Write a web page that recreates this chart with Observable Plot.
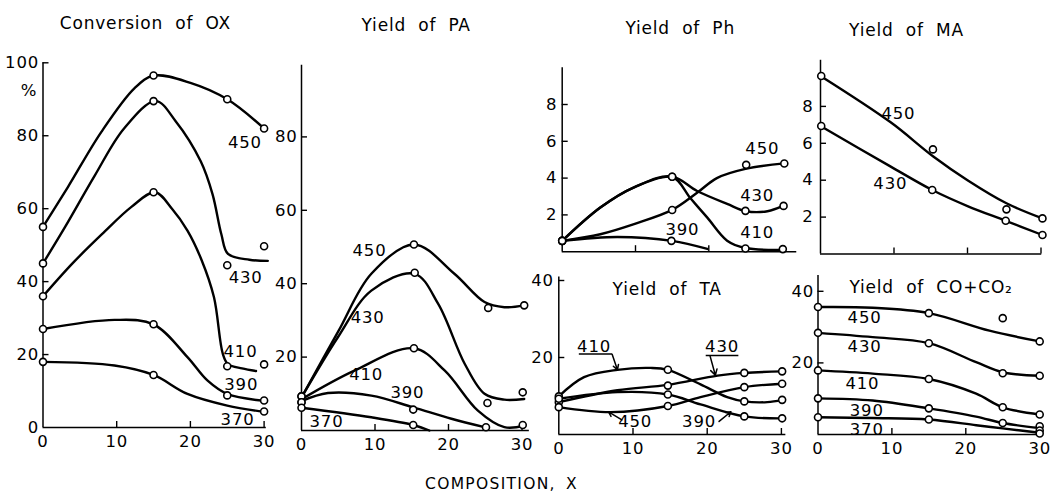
<!DOCTYPE html>
<html><head><meta charset="utf-8">
<script src="https://cdn.jsdelivr.net/npm/d3@7"></script>
<script src="https://cdn.jsdelivr.net/npm/@observablehq/plot@0.6"></script>
<style>
html,body{margin:0;padding:0;background:#fff;}
#chart{position:relative;width:1051px;height:495px;overflow:hidden;background:#fff;font-family:"DejaVu Sans",sans-serif;color:#000;}
#chart svg{position:absolute;left:0;top:0;background:transparent;}
#caption{position:absolute;left:0;width:1003px;top:475px;text-align:center;font-size:15.5px;letter-spacing:1.3px;word-spacing:4px;font-family:"DejaVu Sans",sans-serif;}
</style></head><body><div id="chart"><div id="caption">COMPOSITION, X</div></div>
<script>
// ---------- DATA ----------
const titles = ["Conversion of OX", "Yield of PA", "Yield of Ph", "Yield of TA", "Yield of MA", "Yield of CO+CO\u2082"];
const titlePos = [[13.9, 110.9], [15.6, 110.4], [16.1, 12.15], [14.6, 37.6], [11.7, 12.1], [15.3, 41.1]];

// Conversion of OX
const oxSeries = ["450", "430", "410", "390", "370"];
const oxPoints = [
  [[0,55],[15,96.5],[25,90],[30,82]],
  [[0,45],[15,89.5],[25,44.5],[30,49.7]],
  [[0,36],[15,64.5],[25,16.8],[30,17.3]],
  [[0,27],[15,28.3],[25,8.8],[30,7.4]],
  [[0,18],[15,14.4],[30,4.4]]
];
const oxCurves = [
  [[0,55],[3.4,66],[7.9,81],[12.4,93],[15,96.5],[20,94.5],[25,90],[30,82]],
  [[0,45],[3,55],[7,69],[11,82],[15.3,89.5],[18,84],[21.4,73],[23,64],[24.2,53],[25.1,47.6],[28,46],[30.5,45.7]],
  [[0,36],[4,45],[8,53],[12,60.5],[15.2,64.5],[17.5,60],[19.6,54],[21.5,46],[23.2,35.7],[24.4,20.2],[25.1,17.4],[27,16.2],[28.9,15.5]],
  [[0,27],[9.7,29.5],[15,28.3],[19.6,19.3],[22.3,12.9],[25,9.2],[30,7.3]],
  [[0,18],[9.7,17],[15,14.4],[19.6,9.2],[25,6],[30,4.3]]
];
const oxLabelPos = [[27.4,78.2],[27.5,41.2],[26.8,20.9],[26.9,11.8],[26.4,2.1]];

// Yield of PA
const paSeries = ["450", "430", "410", "390", "370"];
const paPoints = [
  [[0,9.3],[15.3,50.7],[25.4,33.4],[30.3,34.1]],
  [[0,9.3],[15.4,43],[25.3,7.5],[30.1,10.4]],
  [[0,7.7],[15.3,22.4],[25.1,0.9],[30.1,1.5]],
  [[0,7.7],[15.2,5.7]],
  [[0,6.2],[15.2,1.5]]
];
const paCurves = [
  [[0,9],[5,27],[9.5,42.7],[15.3,50.7],[20.8,42.7],[24.9,35],[27.6,33.6],[30.3,34.1]],
  [[0,9],[4.95,25.4],[9.5,38.1],[15.4,42.7],[18.6,34.5],[22.2,18.2],[24.9,10],[27.6,8.4],[30.3,8.6]],
  [[0,8.5],[7.2,16.3],[15.3,22.4],[19.5,16.3],[24,5.4],[27.6,0.9],[30.3,1.3]],
  [[0,8],[3.6,10.2],[9.5,9.5],[15.2,6.3],[20.4,3.2],[24.9,0.9]],
  [[0,6.2],[9.5,3.6],[15.2,1.5],[17.4,0]]
];
const paLabelPos = [[9.25,49],[9.0,30.7],[8.8,15.3],[14.4,10.2],[3.4,2.3]];

// Yield of Ph
const phSeries = ["450", "430", "410", "390"];
const phPoints = [
  [[0,0.59],[15,2.27],[25.1,4.72],[30.3,4.79]],
  [[0,0.59],[15,4.07],[25,2.22],[30.2,2.49]],
  [[0,0.59],[15,4.07],[25,0.17],[30.1,0.14]],
  [[0,0.59],[14.9,0.59]]
];
const phCurves = [
  [[0,0.59],[5.2,0.95],[9.8,1.5],[15,2.27],[18.4,3.2],[21.1,4.0],[25,4.5],[30.3,4.8]],
  [[0,0.59],[5.2,2.4],[9.8,3.5],[15,4.07],[18.4,3.3],[22.5,2.6],[25.1,2.2],[28,2.2],[30.2,2.5]],
  [[0,0.59],[5.2,2.4],[9.8,3.5],[15,4.07],[17.5,2.9],[19.8,1.85],[22.5,0.6],[25,0.2],[30.2,0.1]],
  [[0,0.59],[7.5,0.8],[15,0.59],[19.8,0.15]]
];
const phLabelPos = [[27.3,5.57],[26.6,3.03],[26.6,1.04],[16.4,1.17]];

// Yield of TA
const taSeries = ["410", "430", "450", "390"];
const taPoints = [
  [[0,9.9],[14.7,16.8],[25,8.6],[30.1,9.0]],
  [[0,8.4],[14.7,12.7],[25,16.0],[30.1,16.4]],
  [[0,7.1],[14.7,7.4],[25,12.3],[30.1,13.2]],
  [[0,9.3],[14.7,10.4],[25,4.7],[30.1,4.2]]
];
const taCurves = [
  [[0,9.9],[3.4,14.9],[7.9,16.8],[12.4,17.3],[14.7,16.8],[19.1,13],[22.7,9.7],[25,8.6],[28.1,8.4],[30.1,9]],
  [[0,8.4],[7.9,11.5],[14.7,12.9],[21.4,15.3],[25,16],[30.1,16.4]],
  [[0,7.1],[7,5.8],[14.7,7.4],[19.1,9.7],[25,12.3],[30.1,13.2]],
  [[0,9.3],[7.9,11],[14.7,10.4],[19.1,7.8],[25,4.7],[30.1,4.2]]
];
const taLabelPos = [[4.75,22.9],[22,22.9],[10.3,3.2],[18.9,3.2]];
const taUnderlines = [[2.7,7.2,20.9],[19.8,24.2,20.5]];          // x1, x2, y
const taLeaders = [[7.2,20.8,7.9,16.8],[20.4,20.3,21.1,15.4],[8.5,3.8,6.7,5.9],[21.6,3.4,23.2,5.9]]; // x1,y1,x2,y2

// Yield of MA
const maSeries = ["450", "430"];
const maPoints = [
  [[0.1,9.65],[15.3,5.67],[25.3,2.42],[30.2,1.93]],
  [[0.1,6.94],[15.2,3.47],[25.2,1.8],[30.2,1.03]]
];
const maCurves = [
  [[0,9.65],[9.5,7.15],[15.3,5.3],[20,4],[25.3,2.75],[30.2,1.93]],
  [[0,6.94],[9.5,4.75],[15.2,3.47],[20,2.6],[25.2,1.8],[30.2,1.03]]
];
const maLabelPos = [[10.6,7.6],[9.5,3.83]];

// Yield of CO+CO2
const coSeries = ["450", "430", "410", "390", "370"];
const coPoints = [
  [[0,35.6],[15,33.9],[25,32.5],[30,26]],
  [[0,28.4],[15,25.5],[25,17.1],[30,16.4]],
  [[0,17.9],[15,15.5],[25,7.6],[30,5.6]],
  [[0,10.1],[15,7.3],[25,3.2],[30,2.3]],
  [[0,4.8],[15,4.2],[30,1.1],[30,0.3]]
];
const coCurves = [
  [[0,35.6],[7.4,35.4],[15,33.9],[23.2,29],[30,26]],
  [[0,28.4],[7.4,27.2],[15,25.5],[21.4,20.2],[25,17.4],[30,16.4]],
  [[0,17.9],[7.4,17],[15,15.5],[21.4,11.4],[25,7.6],[30,5.6]],
  [[0,10.1],[7.4,9.5],[15,7.3],[21.4,5],[25,3.2],[30,1.8]],
  [[0,4.8],[7.4,4.6],[15,4.2],[21.4,2.6],[25,1.7],[30,0.5]]
];
const coLabelPos = [[6.3,32.6],[6.3,24.6],[6.0,14.2],[6.6,6.7],[6.6,1.3]];

// axis ticks
const oxYTicks = [0,20,40,60,80,100];
const paYTicks = [20,40,60,80];
const phYTicks = [2,4,6,8];
const taYTicks = [20,40];
const maYTicks = [2,4,6,8];
const coYTicks = [20,40];
const xTickLabels = [0,10,20,30];

// ---------- LAYOUT (page pixels) ----------
const FONT = "DejaVu Sans";
const TL = 6;
const geo = [
  {x0:42.5, kx:7.37, y0:427,   ky:3.647, yTop:100,  xEnd:30.3, yT:oxYTicks, yMarks:[20,40,60,80,100], xT:[10,20,30], xL:xTickLabels, ldx:-4},
  {x0:301,  kx:7.35, y0:430,   ky:3.67,  yTop:99.5, xEnd:31,   yT:paYTicks, yMarks:paYTicks, xT:[10,20,30], xL:xTickLabels, ldx:-4},
  {x0:561.7,kx:7.33, y0:251.2, ky:18.4,  yTop:10,   xEnd:32,   yT:phYTicks, yMarks:phYTicks, xT:[10,20], xL:[], ldx:-5},
  {x0:558.3,kx:7.42, y0:434,   ky:3.85,  yTop:40.9, xEnd:30.6, yT:taYTicks, yMarks:taYTicks, xT:[10,20,30], xL:xTickLabels, ldx:-5},
  {x0:820,  kx:7.35, y0:253.5, ky:18.45, yTop:10.5, xEnd:30.1, yT:maYTicks, yMarks:maYTicks, xT:[10,20,30], xL:[], ldx:-7},
  {x0:817.5,kx:7.39, y0:434,   ky:3.58,  yTop:44.4, xEnd:30.4, yT:coYTicks, yMarks:coYTicks, xT:[10,20,30], xL:xTickLabels, ldx:-4}
];

function rows(series, arrs) {
  return series.flatMap((s, i) => arrs[i].map(([x, y]) => ({s, x, y})));
}

function panel(i, series, points, curves, labelPos, extra = []) {
  const g = geo[i];
  const labels = series.map((s, j) => ({s, x: labelPos[j][0], y: labelPos[j][1]}));
  return Plot.plot({
    width: 1051, height: 495, margin: 0,
    x: {domain: [0, 30], range: [g.x0, g.x0 + 30 * g.kx], axis: null},
    y: {domain: [0, 10], range: [g.y0, g.y0 - 10 * g.ky], axis: null},
    style: {fontFamily: FONT, background: "transparent", overflow: "visible"},
    marks: [
      Plot.ruleX([0], {x: d => d, y1: 0, y2: g.yTop, strokeWidth: 1.5}),
      Plot.ruleY([0], {y: d => d, x1: 0, x2: g.xEnd, strokeWidth: 1.5}),
      Plot.ruleY(g.yMarks, {y: d => d, x1: 0, x2: TL / g.kx, strokeWidth: 1.4}),
      Plot.ruleX(g.xT, {x: d => d, y1: 0, y2: TL / g.ky, strokeWidth: 1.4}),
      Plot.text(g.yT, {x: 0, y: d => d, text: d => String(d), textAnchor: "end", dx: g.ldx, fontSize: 16.5, fontFamily: FONT}),
      Plot.text(g.xL, {x: d => d, y: 0, text: d => String(d), dy: 14, fontSize: 16.5, fontFamily: FONT}),
      Plot.line(rows(series, curves), {x: "x", y: "y", z: "s", curve: "catmull-rom", stroke: "black", strokeWidth: 2.4}),
      Plot.dot(rows(series, points), {x: "x", y: "y", r: 3.5, fill: "white", stroke: "black", strokeWidth: 1.6}),
      Plot.text(labels, {x: "x", y: "y", text: "s", fontSize: 16.5, fontFamily: FONT}),
      Plot.text([titles[i]], {x: titlePos[i][0], y: titlePos[i][1], text: d => d, fontSize: 17, fontFamily: FONT, style: "word-spacing:5px"}),
      ...extra
    ]
  });
}

const chart = document.getElementById("chart");
const taExtra = [
  Plot.link(taUnderlines, {x1: d => d[0], x2: d => d[1], y1: d => d[2], y2: d => d[2], stroke: "black", strokeWidth: 1.5}),
  Plot.arrow(taLeaders, {x1: d => d[0], y1: d => d[1], x2: d => d[2], y2: d => d[3], stroke: "black", strokeWidth: 1.5, headLength: 7})
];
const oxExtra = [Plot.text(["%"], {x: -1.9, y: 92.4, text: d => d, fontSize: 16.5, fontFamily: FONT})];

const svgs = [
  panel(0, oxSeries, oxPoints, oxCurves, oxLabelPos, oxExtra),
  panel(1, paSeries, paPoints, paCurves, paLabelPos),
  panel(2, phSeries, phPoints, phCurves, phLabelPos),
  panel(3, taSeries, taPoints, taCurves, taLabelPos, taExtra),
  panel(4, maSeries, maPoints, maCurves, maLabelPos),
  panel(5, coSeries, coPoints, coCurves, coLabelPos)
];
svgs.forEach(s => {
  s.style.letterSpacing = "0.8px";
  s.style.wordSpacing = "6px";
  chart.appendChild(s);
});
</script>
</body></html>
